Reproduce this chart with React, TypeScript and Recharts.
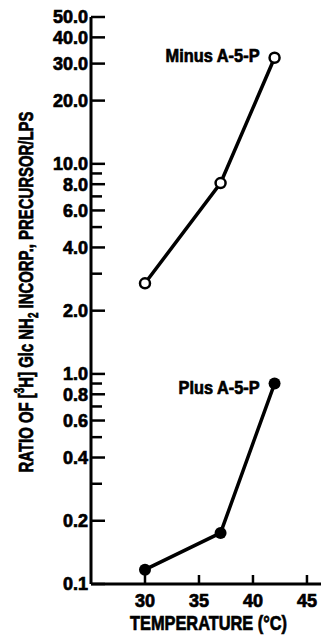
import { LineChart, Line, XAxis, YAxis, LabelList } from 'recharts'

// temperature (°C) and ratio values
const temps = [30, 37, 42]
const minusA5P = [2.7, 8.1, 32]
const plusA5P = [0.117, 0.175, 0.9]
const seriesNames = ['Minus A-5-P', 'Plus A-5-P']

const xTicks = [30, 35, 40, 45]
const yMajorTicks = [0.1, 0.2, 0.4, 0.6, 0.8, 1, 2, 4, 6, 8, 10, 20, 30, 40, 50]
const yMinorTicks = [0.3, 0.5, 0.7, 0.9, 3, 5, 7, 9]

const data = temps.map((t, i) => ({ temp: t, minus: minusA5P[i], plus: plusA5P[i] }))

const FONT = "'Liberation Sans', Arial, sans-serif"
const X_DOMAIN = [25, 46.3]
const Y_DOMAIN = [0.1, 50]
// heavy print look
const INK = { fill: '#000', stroke: '#000', strokeWidth: 0.7, fontWeight: 'bold', fontFamily: FONT }

function YTick(props: any) {
  const { x, y, payload } = props
  const v = payload.value
  const major = yMajorTicks.includes(v)
  return (
    <g>
      <line x1={x} x2={x + (major ? 14 : 11)} y1={y} y2={y} stroke="#000" strokeWidth={2.5} />
      {major && (
        <text x={x - 3} y={y} dy="0.36em" textAnchor="end" fontSize={18} {...INK}>
          {v.toFixed(1)}
        </text>
      )}
    </g>
  )
}

function XTick(props: any) {
  const { x, y, payload } = props
  return (
    <g>
      <line x1={x} x2={x} y1={y} y2={y - 9} stroke="#000" strokeWidth={2.5} />
      <text x={x} y={y + 23} textAnchor="middle" fontSize={18} {...INK}>
        {payload.value}
      </text>
    </g>
  )
}

function XTitle(props: any) {
  const vb = props.viewBox
  return (
    <text
      x={vb.x + vb.width / 2 + 2.5}
      y={vb.y + 46}
      textAnchor="middle"
      fontSize={20}
      textLength={157}
      lengthAdjust="spacingAndGlyphs"
      {...INK}
    >
      TEMPERATURE (°C)
    </text>
  )
}

function YTitle(props: any) {
  const vb = props.viewBox
  const cx = vb.x + 33
  const cy = vb.y + vb.height / 2 - 8.5
  return (
    <text
      x={cx}
      y={cy}
      transform={`rotate(-90 ${cx} ${cy})`}
      textAnchor="middle"
      fontSize={21}
      textLength={361}
      lengthAdjust="spacingAndGlyphs"
      {...INK}
    >
      RATIO OF [<tspan fontSize={14} dy={-9}>3</tspan>
      <tspan dy={9}>H] Glc NH</tspan>
      <tspan fontSize={14} dy={5}>2</tspan>
      <tspan dy={-5}> INCORP., PRECURSOR/LPS</tspan>
    </text>
  )
}

function endLabel(name: string, dy: number, len: number) {
  return (props: any) => {
    const { x, y, index } = props
    if (index !== temps.length - 1) return null
    return (
      <text x={x - 15} y={y + dy} textAnchor="end" fontSize={18} textLength={len} lengthAdjust="spacingAndGlyphs" {...INK}>
        {name}
      </text>
    )
  }
}

export default function App() {
  return (
    <div style={{ position: 'fixed', left: 0, top: 0, background: '#fff' }}>
      <LineChart width={324} height={637} data={data} margin={{ top: 17, right: 3, bottom: 0, left: 0 }}>
        <XAxis
          dataKey="temp"
          type="number"
          domain={X_DOMAIN}
          ticks={xTicks}
          allowDataOverflow
          height={53}
          tickSize={0}
          tickMargin={0}
          tickLine={false}
          tick={<XTick />}
          axisLine={{ stroke: '#000', strokeWidth: 3 }}
          label={{ content: XTitle }}
        />
        <XAxis
          xAxisId="top"
          orientation="top"
          dataKey="temp"
          type="number"
          domain={X_DOMAIN}
          allowDataOverflow
          height={0}
          tick={false}
          tickLine={false}
          axisLine={{ stroke: '#000', strokeWidth: 2 }}
        />
        <YAxis
          type="number"
          scale="log"
          domain={Y_DOMAIN}
          allowDataOverflow
          ticks={[...yMajorTicks, ...yMinorTicks]}
          width={91}
          tickSize={0}
          tickMargin={0}
          tickLine={false}
          tick={<YTick />}
          interval={0}
          axisLine={{ stroke: '#000', strokeWidth: 3 }}
          label={{ content: YTitle }}
        />
        <YAxis
          yAxisId="frame"
          orientation="right"
          type="number"
          scale="log"
          domain={Y_DOMAIN}
          allowDataOverflow
          width={0}
          tick={false}
          tickLine={false}
          axisLine={{ stroke: '#000', strokeWidth: 1.5 }}
        />
        <Line
          dataKey="minus"
          stroke="#000"
          strokeWidth={3.5}
          isAnimationActive={false}
          dot={{ r: 5, fill: '#fff', stroke: '#000', strokeWidth: 2.5 }}
        >
          <LabelList dataKey="minus" content={endLabel(seriesNames[0], 4, 94)} />
        </Line>
        <Line
          dataKey="plus"
          stroke="#000"
          strokeWidth={3.5}
          isAnimationActive={false}
          dot={{ r: 6, fill: '#000', stroke: '#000', strokeWidth: 0 }}
        >
          <LabelList dataKey="plus" content={endLabel(seriesNames[1], 10, 81)} />
        </Line>
      </LineChart>
    </div>
  )
}
